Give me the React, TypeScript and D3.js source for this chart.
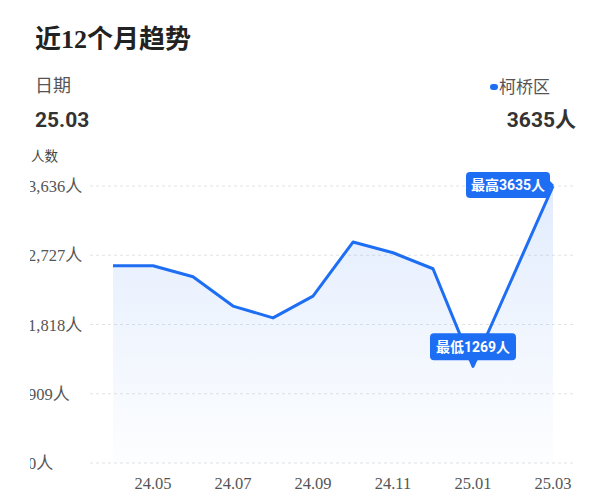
import React from 'react';
import * as d3 from 'd3';

const months = ['24.04', '24.05', '24.06', '24.07', '24.08', '24.09', '24.10', '24.11', '24.12', '25.01', '25.02', '25.03'];
const visitors = [2590, 2590, 2445, 2060, 1905, 2190, 2900, 2760, 2550, 1269, 2450, 3635];
const tickMonths = ['24.05', '24.07', '24.09', '24.11', '25.01', '25.03'];
const yTicks = [0, 909, 1818, 2727, 3636];

const W = 615;
const H = 500;
const blue = '#1e6ef4';
const serif = '"Liberation Serif", "DejaVu Serif", serif';
const sans = 'Roboto, "Noto Sans CJK SC", sans-serif';
const cjk = '"Noto Sans CJK SC", sans-serif';

const App: React.FC = () => {
  const x = d3.scalePoint<string>().domain(months).range([93, 573]).padding(0.5);
  const y = d3.scaleLinear().domain([0, 3636]).range([463, 186]);

  const line = d3.line<number>()
    .x((_, i) => x(months[i]) || 0)
    .y(d => y(d));
  const area = d3.area<number>()
    .x((_, i) => x(months[i]) || 0)
    .y0(y(0))
    .y1(d => y(d));

  const maxI = visitors.indexOf(d3.max(visitors) || 0);
  const minI = visitors.indexOf(d3.min(visitors) || 0);
  const maxX = x(months[maxI]) || 0;
  const maxY = y(visitors[maxI]);
  const minX = x(months[minI]) || 0;
  const minY = y(visitors[minI]);

  return (
    <svg width={W} height={H} style={{ position: 'absolute', left: 0, top: 0, background: '#fff' }}>
      <defs>
        <linearGradient id="fill" x1="0" y1="0" x2="0" y2="1">
          <stop offset="0%" stopColor={blue} stopOpacity={0.13} />
          <stop offset="100%" stopColor={blue} stopOpacity={0.01} />
        </linearGradient>
        <clipPath id="axisClip">
          <rect x={30} y={0} width={W} height={H} />
        </clipPath>
      </defs>

      {/* header */}
      <text x={35} y={48} fontFamily={cjk} fontWeight={700} fontSize={26} fill="#222">
        近<tspan fontFamily={serif}>12</tspan>个月趋势
      </text>
      <text x={35} y={92} fontFamily={cjk} fontSize={18} fill="#555">日期</text>
      <text x={35} y={127} fontFamily={sans} fontWeight={700} fontSize={21} fill="#333">25.03</text>
      <rect x={490} y={84} width={8} height={6} rx={3} fill={blue} />
      <text x={550} y={93} textAnchor="end" fontFamily={cjk} fontSize={17} fill="#555">柯桥区</text>
      <text x={576} y={127} textAnchor="end" fontFamily={sans} fontWeight={700} fontSize={21} fill="#333">3635人</text>
      <text x={31} y={161} fontFamily={cjk} fontSize={13.5} fill="#444">人数</text>

      {/* grid + y axis */}
      <g clipPath="url(#axisClip)">
        {yTicks.map(t => (
          <g key={t}>
            <line x1={90} x2={575} y1={y(t)} y2={y(t)} stroke="#e3e3e3" strokeDasharray="3,3" />
            <text x={28} y={y(t) + 6} fontFamily={serif} fontSize={16.5} fill="#555">
              {d3.format(',')(t)}<tspan fontFamily={cjk} fontSize={17}>人</tspan>
            </text>
          </g>
        ))}
      </g>

      {/* x axis labels */}
      {tickMonths.map(m => (
        <text key={m} x={x(m) || 0} y={489} textAnchor="middle" fontFamily={serif} fontSize={16.5} fill="#555">{m}</text>
      ))}

      <path d={area(visitors) || ''} fill="url(#fill)" />
      <path d={line(visitors) || ''} fill="none" stroke={blue} strokeWidth={3} strokeLinejoin="round" />

      {/* max marker */}
      <g>
        <rect x={maxX - 87} y={maxY - 14} width={84} height={26} rx={4} fill={blue} />
        <path d={`M${maxX - 4},${maxY - 6} L${maxX + 1},${maxY - 1} L${maxX - 4},${maxY + 4} Z`} fill={blue} />
        <text x={maxX - 45} y={maxY + 4} textAnchor="middle" fontFamily={sans} fontWeight={700} fontSize={14} fill="#fff">
          最高{visitors[maxI]}人
        </text>
      </g>
      {/* min marker */}
      <g>
        <rect x={minX - 43} y={minY - 33} width={86} height={27} rx={4} fill={blue} />
        <path d={`M${minX - 5},${minY - 7} L${minX},${minY} L${minX + 5},${minY - 7} Z`} fill={blue} />
        <text x={minX} y={minY - 14} textAnchor="middle" fontFamily={sans} fontWeight={700} fontSize={14} fill="#fff">
          最低{visitors[minI]}人
        </text>
      </g>
    </svg>
  );
};

export default App;
